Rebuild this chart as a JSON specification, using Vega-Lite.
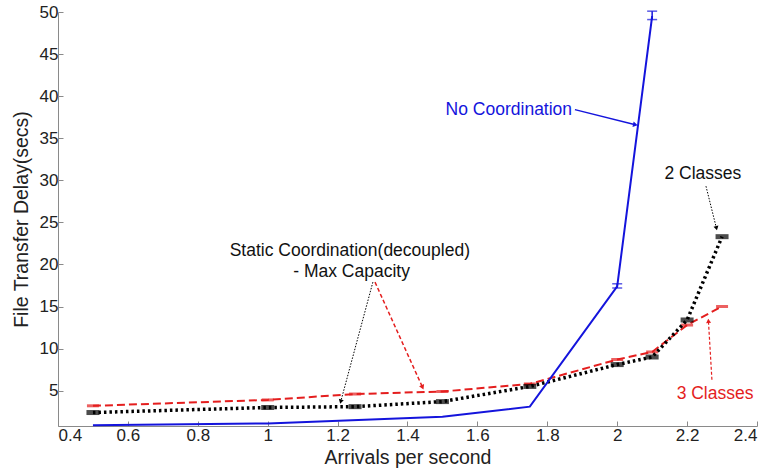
{
  "$schema": "https://vega.github.io/schema/vega-lite/v6.json",
  "autosize": "none",
  "width": 699,
  "height": 414,
  "padding": {"left": 58, "top": 12, "right": 15, "bottom": 44},
  "background": "white",
  "config": {
    "view": {"stroke": null},
    "axis": {
      "grid": false,
      "domainColor": "#8a8a8a",
      "tickColor": "#8a8a8a",
      "tickSize": -5,
      "labelFont": "Liberation Sans",
      "labelFontSize": 17,
      "labelColor": "#222222",
      "titleFont": "Liberation Sans",
      "titleFontSize": 19.5,
      "titleFontWeight": "normal",
      "titleColor": "#222222"
    }
  },
  "datasets": {
    "curves": [
      {"series": "No Coordination", "x": 0.5, "y": 0.9},
      {"series": "No Coordination", "x": 1.0, "y": 1.1},
      {"series": "No Coordination", "x": 1.5, "y": 1.9},
      {"series": "No Coordination", "x": 1.75, "y": 3.1},
      {"series": "No Coordination", "x": 2.0, "y": 17.4},
      {"series": "No Coordination", "x": 2.1, "y": 49.5},
      {"series": "2 Classes", "x": 0.5, "y": 2.4},
      {"series": "2 Classes", "x": 1.0, "y": 3.0},
      {"series": "2 Classes", "x": 1.25, "y": 3.1},
      {"series": "2 Classes", "x": 1.5, "y": 3.7},
      {"series": "2 Classes", "x": 1.75, "y": 5.5},
      {"series": "2 Classes", "x": 2.0, "y": 8.1},
      {"series": "2 Classes", "x": 2.1, "y": 9.0},
      {"series": "2 Classes", "x": 2.2, "y": 13.4},
      {"series": "2 Classes", "x": 2.3, "y": 23.3},
      {"series": "3 Classes", "x": 0.5, "y": 3.2},
      {"series": "3 Classes", "x": 1.0, "y": 3.9},
      {"series": "3 Classes", "x": 1.25, "y": 4.6},
      {"series": "3 Classes", "x": 1.5, "y": 4.9},
      {"series": "3 Classes", "x": 1.75, "y": 5.8},
      {"series": "3 Classes", "x": 2.0, "y": 8.7},
      {"series": "3 Classes", "x": 2.1, "y": 9.6},
      {"series": "3 Classes", "x": 2.2, "y": 12.8},
      {"series": "3 Classes", "x": 2.3, "y": 15.0}
    ],
    "blueErr": [
      {"x": 2.0, "lo": 17.2, "hi": 17.7},
      {"x": 2.1, "lo": 49.1, "hi": 50.1}
    ],
    "labels": [
      {"name": "nc", "text": "No Coordination", "x": 1.69, "y": 38.3},
      {"name": "c2", "text": "2 Classes", "x": 2.245, "y": 30.8},
      {"name": "c3", "text": "3 Classes", "x": 2.28, "y": 4.6},
      {"name": "st", "text": "Static Coordination(decoupled)", "x": 1.235, "y": 21.6},
      {"name": "st", "text": "- Max Capacity", "x": 1.24, "y": 19.1}
    ],
    "arrows": [
      {"name": "nc", "x": 1.879, "y": 38.4, "x2": 2.052, "y2": 36.6},
      {"name": "c2", "x": 2.254, "y": 29.3, "x2": 2.284, "y2": 24.3},
      {"name": "c3", "x": 2.271, "y": 6.3, "x2": 2.261, "y2": 13.3},
      {"name": "sb", "x": 1.301, "y": 17.9, "x2": 1.209, "y2": 3.7},
      {"name": "sr", "x": 1.307, "y": 17.9, "x2": 1.443, "y2": 5.4}
    ]
  },
  "encoding": {
    "x": {"type": "quantitative"},
    "y": {"type": "quantitative"}
  },
  "layer": [
    {
      "data": {"name": "curves"},
      "transform": [{"filter": "datum.series === '3 Classes'"}],
      "mark": {"type": "line", "color": "#e41e1e", "strokeWidth": 2, "strokeDash": [8, 4]},
      "encoding": {
        "x": {"field": "x", "type": "quantitative", "title": "Arrivals per second",
              "scale": {"domain": [0.4, 2.4], "nice": false},
              "axis": {"values": [0.4, 0.6, 0.8, 1, 1.2, 1.4, 1.6, 1.8, 2, 2.2, 2.4], "format": "~g", "labelPadding": 6, "titlePadding": 5}},
        "y": {"field": "y", "type": "quantitative", "title": "File Transfer Delay(secs)",
              "scale": {"domain": [0.8, 50], "nice": false, "zero": false},
              "axis": {"values": [5, 10, 15, 20, 25, 30, 35, 40, 45, 50], "labelPadding": 5, "titlePadding": 8}}
      }
    },
    {
      "data": {"name": "curves"},
      "transform": [{"filter": "datum.series === '3 Classes'"}],
      "mark": {"type": "tick", "orient": "horizontal", "color": "#e41e1e", "size": 12, "thickness": 3},
      "encoding": {"x": {"field": "x", "type": "quantitative"}, "y": {"field": "y", "type": "quantitative"}}
    },
    {
      "data": {"name": "curves"},
      "transform": [{"filter": "datum.series === '2 Classes'"}],
      "mark": {"type": "line", "color": "#000000", "strokeWidth": 3.5, "strokeDash": [2.5, 3]},
      "encoding": {"x": {"field": "x", "type": "quantitative"}, "y": {"field": "y", "type": "quantitative"}}
    },
    {
      "data": {"name": "curves"},
      "transform": [{"filter": "datum.series === '2 Classes'"}],
      "mark": {"type": "tick", "orient": "horizontal", "color": "#000000", "size": 13, "thickness": 5},
      "encoding": {"x": {"field": "x", "type": "quantitative"}, "y": {"field": "y", "type": "quantitative"}}
    },
    {
      "data": {"name": "curves"},
      "transform": [{"filter": "datum.series === 'No Coordination'"}],
      "mark": {"type": "line", "color": "#1414dc", "strokeWidth": 2},
      "encoding": {"x": {"field": "x", "type": "quantitative"}, "y": {"field": "y", "type": "quantitative"}}
    },
    {
      "data": {"name": "blueErr"},
      "mark": {"type": "rule", "color": "#1414dc", "strokeWidth": 1.5},
      "encoding": {"x": {"field": "x", "type": "quantitative"}, "y": {"field": "lo", "type": "quantitative"}, "y2": {"field": "hi"}}
    },
    {
      "data": {"name": "blueErr"},
      "mark": {"type": "tick", "orient": "horizontal", "color": "#1414dc", "size": 10, "thickness": 1.5},
      "encoding": {"x": {"field": "x", "type": "quantitative"}, "y": {"field": "lo", "type": "quantitative"}}
    },
    {
      "data": {"name": "blueErr"},
      "mark": {"type": "tick", "orient": "horizontal", "color": "#1414dc", "size": 10, "thickness": 1.5},
      "encoding": {"x": {"field": "x", "type": "quantitative"}, "y": {"field": "hi", "type": "quantitative"}}
    },
    {
      "data": {"name": "arrows"},
      "transform": [{"filter": "datum.name === 'nc'"}],
      "mark": {"type": "rule", "color": "#1414dc", "strokeWidth": 1.5},
      "encoding": {"x": {"field": "x", "type": "quantitative"}, "y": {"field": "y", "type": "quantitative"}, "x2": {"field": "x2"}, "y2": {"field": "y2"}}
    },
    {
      "data": {"name": "arrows"},
      "transform": [{"filter": "datum.name === 'nc'"}],
      "mark": {"type": "point", "shape": "triangle-up", "filled": true, "opacity": 1, "color": "#1414dc", "size": 30, "angle": 102},
      "encoding": {"x": {"field": "x2", "type": "quantitative"}, "y": {"field": "y2", "type": "quantitative"}}
    },
    {
      "data": {"name": "arrows"},
      "transform": [{"filter": "datum.name === 'c2'"}],
      "mark": {"type": "rule", "color": "#000000", "strokeWidth": 1, "strokeDash": [1.5, 1.5]},
      "encoding": {"x": {"field": "x", "type": "quantitative"}, "y": {"field": "y", "type": "quantitative"}, "x2": {"field": "x2"}, "y2": {"field": "y2"}}
    },
    {
      "data": {"name": "arrows"},
      "transform": [{"filter": "datum.name === 'c2'"}],
      "mark": {"type": "point", "shape": "triangle-up", "filled": true, "opacity": 1, "color": "#000000", "size": 25, "angle": 167},
      "encoding": {"x": {"field": "x2", "type": "quantitative"}, "y": {"field": "y2", "type": "quantitative"}}
    },
    {
      "data": {"name": "arrows"},
      "transform": [{"filter": "datum.name === 'c3'"}],
      "mark": {"type": "rule", "color": "#e41e1e", "strokeWidth": 1.2, "strokeDash": [3, 2]},
      "encoding": {"x": {"field": "x", "type": "quantitative"}, "y": {"field": "y", "type": "quantitative"}, "x2": {"field": "x2"}, "y2": {"field": "y2"}}
    },
    {
      "data": {"name": "arrows"},
      "transform": [{"filter": "datum.name === 'c3'"}],
      "mark": {"type": "point", "shape": "triangle-up", "filled": true, "opacity": 1, "color": "#e41e1e", "size": 25, "angle": -4},
      "encoding": {"x": {"field": "x2", "type": "quantitative"}, "y": {"field": "y2", "type": "quantitative"}}
    },
    {
      "data": {"name": "arrows"},
      "transform": [{"filter": "datum.name === 'sb'"}],
      "mark": {"type": "rule", "color": "#000000", "strokeWidth": 1, "strokeDash": [1.5, 1.5]},
      "encoding": {"x": {"field": "x", "type": "quantitative"}, "y": {"field": "y", "type": "quantitative"}, "x2": {"field": "x2"}, "y2": {"field": "y2"}}
    },
    {
      "data": {"name": "arrows"},
      "transform": [{"filter": "datum.name === 'sb'"}],
      "mark": {"type": "point", "shape": "triangle-up", "filled": true, "opacity": 1, "color": "#000000", "size": 25, "angle": 195},
      "encoding": {"x": {"field": "x2", "type": "quantitative"}, "y": {"field": "y2", "type": "quantitative"}}
    },
    {
      "data": {"name": "arrows"},
      "transform": [{"filter": "datum.name === 'sr'"}],
      "mark": {"type": "rule", "color": "#e41e1e", "strokeWidth": 1.5, "strokeDash": [4, 2.5]},
      "encoding": {"x": {"field": "x", "type": "quantitative"}, "y": {"field": "y", "type": "quantitative"}, "x2": {"field": "x2"}, "y2": {"field": "y2"}}
    },
    {
      "data": {"name": "arrows"},
      "transform": [{"filter": "datum.name === 'sr'"}],
      "mark": {"type": "point", "shape": "triangle-up", "filled": true, "opacity": 1, "color": "#e41e1e", "size": 30, "angle": 156},
      "encoding": {"x": {"field": "x2", "type": "quantitative"}, "y": {"field": "y2", "type": "quantitative"}}
    },
    {
      "data": {"name": "labels"},
      "transform": [{"filter": "datum.name === 'nc'"}],
      "mark": {"type": "text", "font": "Liberation Sans", "fontSize": 17.5, "color": "#1414dc", "align": "center", "baseline": "middle"},
      "encoding": {"x": {"field": "x", "type": "quantitative"}, "y": {"field": "y", "type": "quantitative"}, "text": {"field": "text"}}
    },
    {
      "data": {"name": "labels"},
      "transform": [{"filter": "datum.name === 'c2' || datum.name === 'st'"}],
      "mark": {"type": "text", "font": "Liberation Sans", "fontSize": 17.5, "color": "#111111", "align": "center", "baseline": "middle"},
      "encoding": {"x": {"field": "x", "type": "quantitative"}, "y": {"field": "y", "type": "quantitative"}, "text": {"field": "text"}}
    },
    {
      "data": {"name": "labels"},
      "transform": [{"filter": "datum.name === 'c3'"}],
      "mark": {"type": "text", "font": "Liberation Sans", "fontSize": 17.5, "color": "#e41e1e", "align": "center", "baseline": "middle"},
      "encoding": {"x": {"field": "x", "type": "quantitative"}, "y": {"field": "y", "type": "quantitative"}, "text": {"field": "text"}}
    }
  ]
}
